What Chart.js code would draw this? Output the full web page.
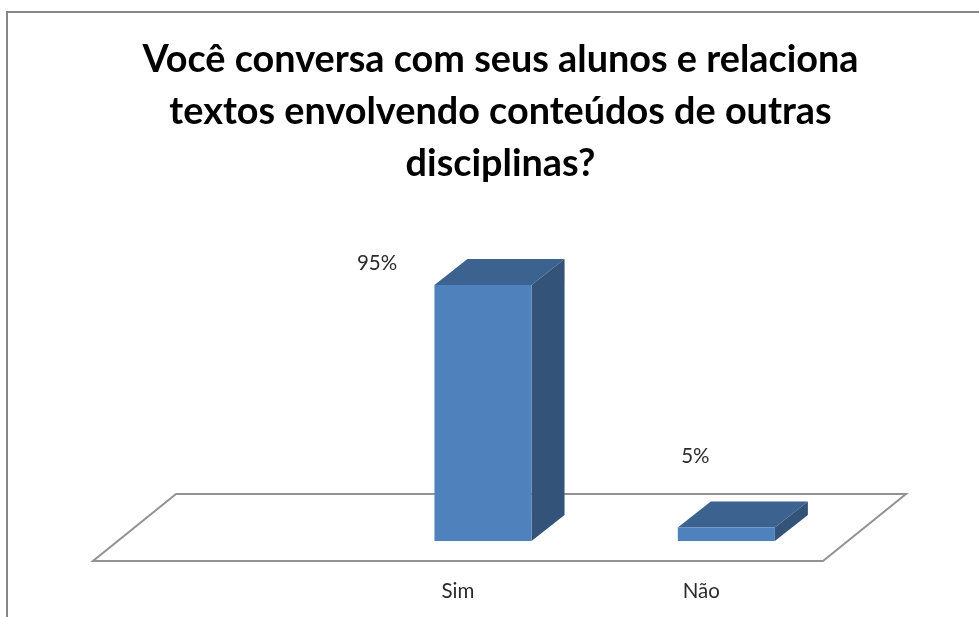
<!DOCTYPE html>
<html>
<head>
<meta charset="utf-8">
<style>
  html, body { margin: 0; padding: 0; background: #fff; overflow: hidden; }
  #chart_box { width: 979px; height: 617px; }
</style>
<script src="https://cdn.jsdelivr.net/npm/chart.js@4/dist/chart.umd.min.js"></script>
</head>
<body>
<div id="chart_box"><canvas id="respostas_chart"></canvas></div>
<script>
var categories = ["", "Sim", "Não"];
var percent_values = [null, 95, 5];
var title_lines = [
    "Você conversa com seus alunos e relaciona",
    "textos envolvendo conteúdos de outras",
    "disciplinas?"
];

// the old office 3d look: floor depth and where the bars sit on it
var floor_dx = 83, floor_dy = -67;
var bar_dx = 25, bar_dy = -20;
var top_dx = 33, top_dy = -26;
var label_shift = [null, [-81, -42], [-6, -91]];

var frame_and_floor = {
    id: 'frame_and_floor',
    beforeDatasetsDraw: function (chart) {
        var ctx = chart.ctx, area = chart.chartArea;
        ctx.save();
        ctx.strokeStyle = "#868686";
        ctx.lineWidth = 2;
        ctx.beginPath();
        ctx.moveTo(7, chart.height);
        ctx.lineTo(7, 12);
        ctx.lineTo(chart.width, 12);
        ctx.stroke();

        ctx.strokeStyle = "#929292";
        ctx.beginPath();
        ctx.moveTo(area.left, area.bottom);
        ctx.lineTo(area.right, area.bottom);
        ctx.lineTo(area.right + floor_dx, area.bottom + floor_dy);
        ctx.lineTo(area.left + floor_dx, area.bottom + floor_dy);
        ctx.closePath();
        ctx.stroke();
        ctx.restore();
    }
};

var box_bars = {
    id: 'box_bars',
    beforeDatasetDraw: function (chart, args) {
        var ctx = chart.ctx;
        ctx.save();
        ctx.translate(bar_dx, bar_dy);
        args.meta.data.forEach(function (bar, i) {
            if (percent_values[i] == null) return;
            var left = bar.x - bar.width / 2, right = bar.x + bar.width / 2;
            ctx.fillStyle = "#3c6290";
            ctx.beginPath();
            ctx.moveTo(left, bar.y);
            ctx.lineTo(left + top_dx, bar.y + top_dy);
            ctx.lineTo(right + top_dx, bar.y + top_dy);
            ctx.lineTo(right, bar.y);
            ctx.closePath();
            ctx.fill();
            ctx.fillStyle = "#335379";
            ctx.beginPath();
            ctx.moveTo(right, bar.y);
            ctx.lineTo(right + top_dx, bar.y + top_dy);
            ctx.lineTo(right + top_dx, bar.base + top_dy);
            ctx.lineTo(right, bar.base);
            ctx.closePath();
            ctx.fill();
        });
    },
    afterDatasetDraw: function (chart, args) {
        var ctx = chart.ctx;
        ctx.restore();
        ctx.save();
        ctx.fillStyle = "#2b2b2b";
        ctx.font = "20.5px Lato";
        ctx.textAlign = "center";
        ctx.textBaseline = "middle";
        args.meta.data.forEach(function (bar, i) {
            if (percent_values[i] == null) return;
            ctx.fillText(percent_values[i] + "%", bar.x + label_shift[i][0], bar.y + label_shift[i][1]);
        });
        ctx.restore();
    }
};

var myChart = new Chart(document.getElementById('respostas_chart'), {
    type: 'bar',
    data: {
        labels: categories,
        datasets: [{
            data: percent_values,
            backgroundColor: "#4f81bd",
            categoryPercentage: 1,
            barPercentage: 0.399
        }]
    },
    options: {
        responsive: true,
        maintainAspectRatio: false,
        animation: false,
        layout: { padding: { left: 22 } },
        plugins: {
            legend: { display: false },
            tooltip: { enabled: false },
            title: {
                display: true,
                text: title_lines,
                color: "#000",
                font: { family: "Lato", weight: "bold", size: 37.8, lineHeight: 1.376 },
                padding: { top: 34, bottom: 101.5 }
            }
        },
        scales: {
            x: {
                grid: { display: false },
                border: { display: false },
                ticks: { color: "#2b2b2b", font: { family: "Lato", size: 20.5 }, padding: 10 },
                afterFit: function (scale) { scale.height = 56; }
            },
            y: {
                min: 0,
                max: 100,
                grid: { display: false },
                border: { display: false },
                ticks: { display: false },
                afterFit: function (scale) { scale.width = 71; }
            },
            // empty axis, only keeps the floor clear of the right side
            side: {
                position: 'right',
                min: 0,
                max: 1,
                grid: { display: false },
                border: { display: false },
                ticks: { display: false },
                afterFit: function (scale) { scale.width = 156; }
            }
        }
    },
    plugins: [frame_and_floor, box_bars]
});
</script>
</body>
</html>
